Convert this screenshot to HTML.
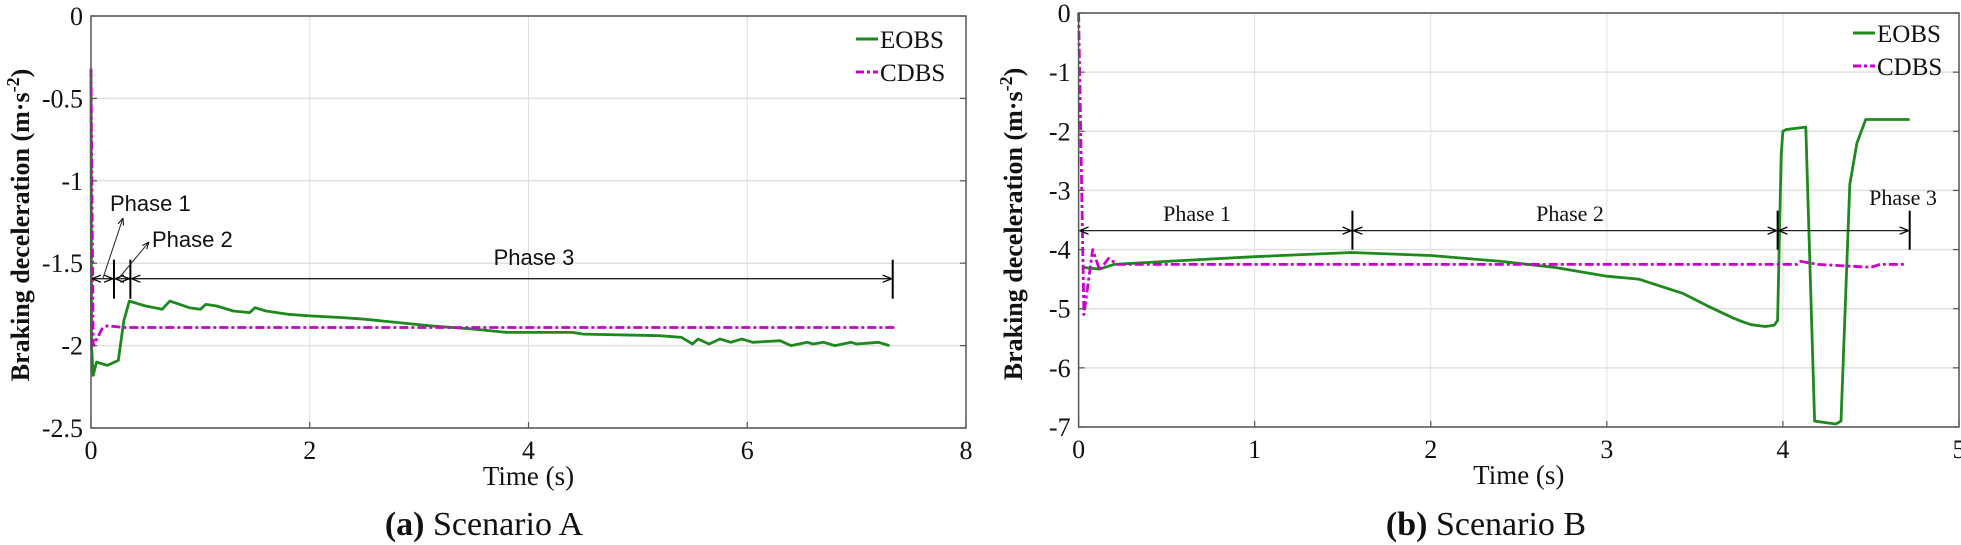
<!DOCTYPE html>
<html><head><meta charset="utf-8">
<style>
html,body{margin:0;padding:0;background:#fff;}
svg{display:block;}
text{font-family:"Liberation Serif",serif;}
.sans{font-family:"Liberation Sans",sans-serif;}
</style></head>
<body>
<svg id="fig" width="1961" height="545" viewBox="0 0 1961 545" xmlns="http://www.w3.org/2000/svg">
<defs>
<marker id="arr" viewBox="0 0 10 10" refX="10" refY="5" markerWidth="7" markerHeight="7" orient="auto-start-reverse"><path d="M0,1 L10,5 L0,9" fill="none" stroke="#000" stroke-width="1.4"/></marker>
</defs>
</svg>
<script>
// ---- Scenario A data ----
const aEobsT = [0,0.005,0.02,0.05,0.15,0.25,0.3,0.35,0.5,0.65,0.72,0.9,1.0,1.05,1.15,1.3,1.45,1.5,1.6,1.8,2.0,2.3,2.5,2.8,3.1,3.5,3.8,4.4,4.5,5.2,5.4,5.5,5.55,5.65,5.75,5.85,5.95,6.05,6.3,6.4,6.55,6.6,6.7,6.8,6.95,7.0,7.2,7.3];
const aEobsV = [-0.33,-2.0,-2.18,-2.1,-2.12,-2.09,-1.85,-1.73,-1.76,-1.78,-1.73,-1.77,-1.78,-1.75,-1.76,-1.79,-1.8,-1.77,-1.79,-1.81,-1.82,-1.83,-1.84,-1.86,-1.88,-1.9,-1.92,-1.92,-1.93,-1.94,-1.95,-1.99,-1.96,-1.99,-1.96,-1.98,-1.96,-1.98,-1.97,-2.0,-1.98,-1.99,-1.98,-2.0,-1.98,-1.99,-1.98,-2.0];
const aCdbsT = [0,0.02,0.06,0.1,0.15,0.3,7.35];
const aCdbsV = [-0.32,-2.0,-1.95,-1.9,-1.88,-1.89,-1.89];
const aXTicks = [0,2,4,6,8];
const aYTicks = [0,-0.5,-1,-1.5,-2,-2.5];
const aYTickLabels = ["0","-0.5","-1","-1.5","-2","-2.5"];
const aPhaseBounds = [0,0.21,0.36,7.33];
// ---- Scenario B data ----
const bEobsT = [0.02,0.12,0.2,0.5,1.0,1.55,2.0,2.4,2.7,3.0,3.18,3.43,3.57,3.72,3.77,3.82,3.9,3.95,3.97,3.99,4.0,4.02,4.13,4.18,4.3,4.33,4.38,4.42,4.47,4.72];
const bEobsV = [-4.3,-4.33,-4.25,-4.2,-4.12,-4.05,-4.1,-4.2,-4.3,-4.45,-4.5,-4.74,-4.95,-5.16,-5.22,-5.27,-5.3,-5.28,-5.2,-2.4,-2.0,-1.97,-1.93,-6.9,-6.95,-6.9,-2.9,-2.2,-1.8,-1.8];
const bCdbsT = [0,0.03,0.08,0.12,0.17,0.22,4.08,4.1,4.2,4.5,4.55,4.7];
const bCdbsV = [0,-5.1,-4.0,-4.35,-4.15,-4.25,-4.25,-4.2,-4.25,-4.3,-4.25,-4.25];
const bXTicks = [0,1,2,3,4,5];
const bYTicks = [0,-1,-2,-3,-4,-5,-6,-7];
const bYTickLabels = ["0","-1","-2","-3","-4","-5","-6","-7"];
const bPhaseBounds = [0,1.555,3.97,4.72];

const NS="http://www.w3.org/2000/svg";
const svg=document.getElementById('fig');
function mk(tag,attrs,parent,txt){const e=document.createElementNS(NS,tag);for(const k in attrs)e.setAttribute(k,attrs[k]);if(txt!==undefined)e.textContent=txt;(parent||svg).appendChild(e);return e;}

function chart(cfg){
  const g=mk('g',{});
  
  
  const X=t=>cfg.L+(t-cfg.xmin)/(cfg.xmax-cfg.xmin)*(cfg.R-cfg.L);
  const Y=v=>cfg.T+(cfg.ymax-v)/(cfg.ymax-cfg.ymin)*(cfg.B-cfg.T);
  cfg.xt.forEach(t=>{const l=mk('line',{x1:X(t),x2:X(t),y1:cfg.T,y2:cfg.B,stroke:'#e0e0e0','stroke-width':1},g);
    
    });
  cfg.yt.forEach(v=>{const l=mk('line',{x1:cfg.L,x2:cfg.R,y1:Y(v),y2:Y(v),stroke:'#e0e0e0','stroke-width':1.5},g);
    
    });
  const line=(ts,vs,color,dash,name)=>{
    const p=mk('polyline',{points:ts.map((t,i)=>X(t).toFixed(1)+','+Y(vs[i]).toFixed(1)).join(' '),fill:'none',stroke:color,'stroke-width':2.8,'stroke-linejoin':'round'},g);
    if(dash)p.setAttribute('stroke-dasharray',dash);
    
    
  };
  line(cfg.eT,cfg.eV,'#1e8a1e',null,'eobs-line');
  line(cfg.cT,cfg.cV,'#cc00cc','9,3,3,3','cdbs-line');
  const box=mk('rect',{x:cfg.L,y:cfg.T,width:cfg.R-cfg.L,height:cfg.B-cfg.T,fill:'none',stroke:'#555','stroke-width':1.5},g);
  
  
  cfg.xt.forEach(t=>{
    mk('line',{x1:X(t),x2:X(t),y1:cfg.B,y2:cfg.B-6,stroke:'#555','stroke-width':1.2},g);
    const tx=mk('text',{x:X(t),y:cfg.B+31,'font-size':26,'text-anchor':'middle',fill:'#111'},g,String(t));
    
    
  });
  cfg.yt.forEach((v,i)=>{
    mk('line',{x1:cfg.L,x2:cfg.L+6,y1:Y(v),y2:Y(v),stroke:'#555','stroke-width':1.2},g);
    mk('line',{x1:cfg.R,x2:cfg.R-6,y1:Y(v),y2:Y(v),stroke:'#555','stroke-width':1.2},g);
    const tx=mk('text',{x:cfg.L-8,y:Y(v)+9,'font-size':26,'text-anchor':'end',fill:'#111'},g,cfg.ytl[i]);
    
    
  });
  const xt=mk('text',{x:(cfg.L+cfg.R)/2,y:cfg.B+57,'font-size':27,'text-anchor':'middle',fill:'#111'},g,'Time (s)');
  
  
  const yt=mk('text',{x:0,y:0,'font-size':26,'font-weight':'bold','text-anchor':'middle',fill:'#111',transform:`translate(${cfg.ytx},${cfg.yty}) rotate(-90)`},g);
  
  
  yt.innerHTML='Braking deceleration (m·s<tspan baseline-shift="super" font-size="18">-2</tspan>)';
  const lg=mk('g',{},g);
  
  
  mk('line',{x1:cfg.lgx,x2:cfg.lgx+22,y1:cfg.lgy,y2:cfg.lgy,stroke:'#1e8a1e','stroke-width':3},lg);
  const e1=mk('text',{x:cfg.lgx+24,y:cfg.lgy+9,'font-size':25,fill:'#111'},lg,'EOBS');
  
  
  mk('line',{x1:cfg.lgx,x2:cfg.lgx+22,y1:cfg.lgy+33,y2:cfg.lgy+33,stroke:'#cc00cc','stroke-width':3,'stroke-dasharray':'8,3,3,3'},lg);
  const e2=mk('text',{x:cfg.lgx+24,y:cfg.lgy+42,'font-size':25,fill:'#111'},lg,'CDBS');
  
  
  const pb=cfg.pb;
  const ay=Y(cfg.phaseY);
  for(let i=0;i<pb.length-1;i++){
    const a=mk('line',{x1:X(pb[i])+1,x2:X(pb[i+1])-1,y1:ay,y2:ay,stroke:'#222','stroke-width':1.3,'marker-start':'url(#arr)','marker-end':'url(#arr)'},g);
    
    
  }
  for(let i=1;i<pb.length;i++){
    const m=mk('line',{x1:X(pb[i]),x2:X(pb[i]),y1:ay-cfg.mUp,y2:ay+cfg.mDn,stroke:'#000','stroke-width':2},g);
    
    
  }
  cfg.labels.forEach(lb=>{
    const t=mk('text',{x:lb[1],y:lb[2],'font-size':lb[3],'text-anchor':lb[4],fill:'#111',class:lb[5]||''},g,lb[0]);
    
    
  });
  (cfg.leaders||[]).forEach(ld=>{
    const l=mk('line',{x1:ld[0],y1:ld[1],x2:ld[2],y2:ld[3],stroke:'#222','stroke-width':1,'marker-end':'url(#arr)'},g);
    
    
  });
  const cp=mk('text',{x:cfg.capx,y:535,'font-size':34,'text-anchor':'middle',fill:'#111'},g);
  
  
  cp.innerHTML=`<tspan font-weight="bold">${cfg.capB}</tspan> ${cfg.capT}`;
}

chart({name:'chart-scenario-a',L:91,R:966,T:16,B:428,xmin:0,xmax:8,ymin:-2.5,ymax:0,
  xt:aXTicks,yt:aYTicks,ytl:aYTickLabels,eT:aEobsT,eV:aEobsV,cT:aCdbsT,cV:aCdbsV,
  ytx:29,yty:225,lgx:856,lgy:39,pb:aPhaseBounds,phaseY:-1.594,mUp:19,mDn:20,
  labels:[['Phase 1',110,211,22,'start','sans'],['Phase 2',152,247,22,'start','sans'],['Phase 3',534,265,22,'middle','sans']],
  leaders:[[103,278,123,218],[119,278,149,242]],
  capx:484,capB:'(a)',capT:'Scenario A'});
chart({name:'chart-scenario-b',L:1078.6,R:1959,T:13,B:427,xmin:0,xmax:5,ymin:-7,ymax:0,
  xt:bXTicks,yt:bYTicks,ytl:bYTickLabels,eT:bEobsT,eV:bEobsV,cT:bCdbsT,cV:bCdbsV,
  ytx:1022,yty:224,lgx:1853,lgy:33,pb:bPhaseBounds,phaseY:-3.68,mUp:20,mDn:19,
  labels:[['Phase 1',1197,221,22,'middle'],['Phase 2',1570,221,22,'middle'],['Phase 3',1903,205,22,'middle']],
  capx:1486,capB:'(b)',capT:'Scenario B'});
</script>
</body></html>
